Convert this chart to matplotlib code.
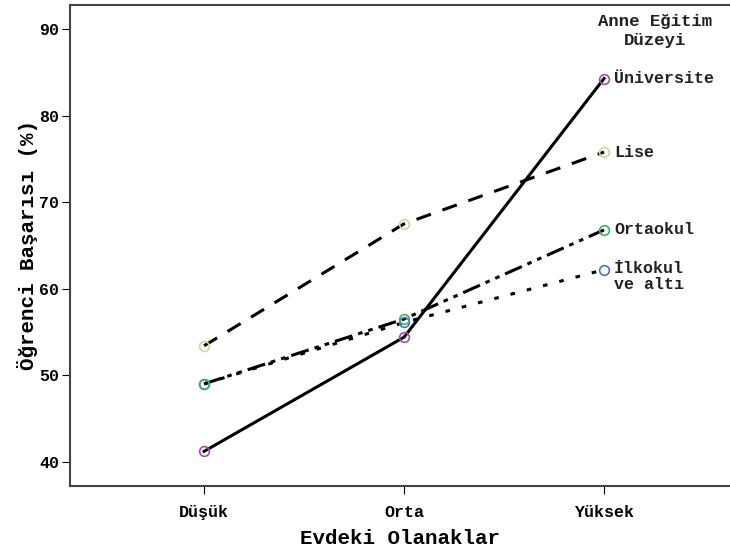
import numpy as np
import matplotlib.pyplot as plt

# categories and series
categories = ["Düşük", "Orta", "Yüksek"]
series_names = ["Üniversite", "Lise", "Ortaokul", "İlkokul\nve altı"]
universite = [41.2, 54.4, 84.3]
lise = [53.4, 67.5, 75.8]
ortaokul = [49.0, 56.5, 66.8]
ilkokul = [49.0, 56.1, 62.2]

values = [universite, lise, ortaokul, ilkokul]
styles = ["-", (0, (5, 4)), (0, (6, 2, 1.5, 2, 1.5, 2)), (0, (1.5, 4))]
marker_colors = ["#a050a8", "#d8d0a0", "#40b060", "#5070c8"]

plt.rcParams["font.family"] = ["Liberation Mono", "DejaVu Sans Mono"]

fig = plt.figure(figsize=(7.3, 5.56), dpi=100)
ax = fig.add_axes([0.096, 0.126, 0.904, 0.865])

x = np.arange(len(categories))
for i, (vals, ls, mc, name) in enumerate(zip(values, styles, marker_colors, series_names)):
    ax.plot(x, vals, color="black", linestyle=ls, linewidth=2.2, zorder=2)
    # earlier series' markers on top (green covers blue at Düşük)
    ax.plot(x, vals, linestyle="none", marker="o", markersize=7,
            markerfacecolor="none", markeredgecolor=mc, markeredgewidth=1.2,
            zorder=10 - i)
    ax.text(x[-1] + 0.05, vals[-1], name, fontsize=12, fontweight="bold",
            va="center" if "\n" not in name else "top",
            ha="left", color="#222222", linespacing=1.1)

# the two-line label sits a bit higher
ax.texts[-1].set_y(ilkokul[-1] + 1.0)

ax.text(2.255, 89.8, "Anne Eğitim\nDüzeyi", ha="center", va="center",
        fontsize=12.5, fontweight="bold", color="#222222", linespacing=1.35)

ax.set_xlim(-0.67, 2.63)
ax.set_ylim(37.2, 92.8)
ax.set_xticks(x)
ax.set_xticklabels(categories, fontsize=12, fontweight="bold")
ax.set_yticks([40, 50, 60, 70, 80, 90])
ax.tick_params(axis="y", labelsize=12, length=6, pad=2)
ax.tick_params(axis="x", length=6, pad=8)
for lab in ax.get_yticklabels():
    lab.set_fontweight("bold")

ax.set_xlabel("Evdeki Olanaklar", fontsize=15, fontweight="bold", labelpad=6)
ax.set_ylabel("Öğrenci Başarısı (%)", fontsize=15, fontweight="bold", labelpad=1)

ax.spines["right"].set_visible(False)
for s in ["left", "bottom", "top"]:
    ax.spines[s].set_color("#444444")
    ax.spines[s].set_linewidth(1.5)

fig.savefig("out.png", dpi=100)
